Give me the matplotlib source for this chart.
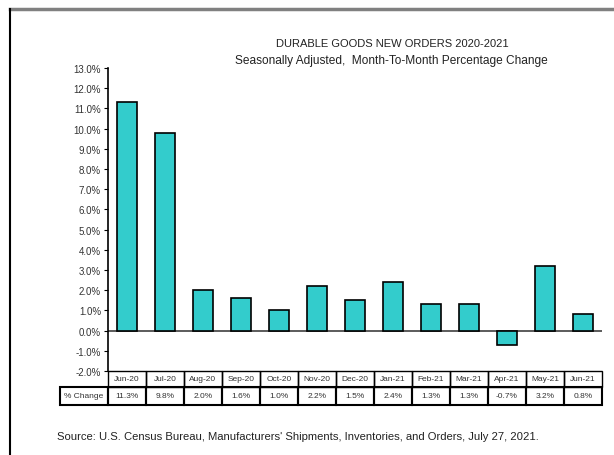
import matplotlib
matplotlib.use("Agg")
import matplotlib.pyplot as plt
from matplotlib.patches import Rectangle
from matplotlib.lines import Line2D
from matplotlib.transforms import blended_transform_factory

months = ["Jun-20", "Jul-20", "Aug-20", "Sep-20", "Oct-20", "Nov-20", "Dec-20",
          "Jan-21", "Feb-21", "Mar-21", "Apr-21", "May-21", "Jun-21"]
pct_change = [11.3, 9.8, 2.0, 1.6, 1.0, 2.2, 1.5, 2.4, 1.3, 1.3, -0.7, 3.2, 0.8]
y_ticks = [-2.0, -1.0, 0.0, 1.0, 2.0, 3.0, 4.0, 5.0, 6.0, 7.0, 8.0, 9.0, 10.0, 11.0, 12.0, 13.0]

plt.rcParams['font.family'] = ['Liberation Sans Narrow', 'Liberation Sans', 'DejaVu Sans']

W, H = 614, 456
fig = plt.figure(figsize=(W / 100, H / 100), dpi=100)

def fx(px):
    return px / W

def fy(py):
    return 1 - py / H

# outer frame
fig.add_artist(Line2D([fx(10), 1.0], [fy(10), fy(10)], color="#808080", lw=2.5))
fig.add_artist(Line2D([fx(10), fx(10)], [fy(10), 0.0], color="black", lw=1.5))

ax = fig.add_axes([fx(108), fy(372), fx(602) - fx(108), fy(69) - fy(372)])
x = list(range(len(months)))
ax.bar(x, pct_change, width=0.53, color="#33CCCC", edgecolor="black", linewidth=1.2, zorder=3)
ax.axhline(0, color="#404040", lw=1.2, zorder=2)
ax.set_xlim(-0.5, len(months) - 0.5)
ax.set_ylim(-2, 13)
ax.set_yticks(y_ticks)
ax.set_yticklabels([f"{v:.1f}%" for v in y_ticks], fontsize=7, color="#333333")
ax.tick_params(axis="y", direction="out", length=3, width=0.8, pad=2)
ax.set_xticks([])
for s in ["top", "right", "bottom"]:
    ax.spines[s].set_visible(False)
ax.spines["left"].set_linewidth(1.2)

# data table below the axis
tr = blended_transform_factory(ax.transData, fig.transFigure)
row1_top, row1_bot = fy(372), fy(388)
row2_top, row2_bot = fy(388), fy(406)
for i, (m, v) in enumerate(zip(months, pct_change)):
    ax.add_artist(Rectangle((i - 0.5, row1_bot), 1, row1_top - row1_bot, transform=tr,
                            fill=False, edgecolor="black", lw=1.0, clip_on=False))
    ax.add_artist(Rectangle((i - 0.5, row2_bot), 1, row2_top - row2_bot, transform=tr,
                            fill=False, edgecolor="black", lw=1.5, clip_on=False))
    ax.text(i, (row1_top + row1_bot) / 2, m, transform=tr, ha="center", va="center",
            fontsize=6, color="#333333", clip_on=False)
    ax.text(i, (row2_top + row2_bot) / 2, f"{v:.1f}%", transform=tr, ha="center", va="center",
            fontsize=6, color="#333333", clip_on=False)

fig.add_artist(Rectangle((fx(60), row2_bot), fx(108) - fx(60), row2_top - row2_bot,
                         fill=False, edgecolor="black", lw=1.5, transform=fig.transFigure))
fig.text((fx(60) + fx(108)) / 2, (row2_top + row2_bot) / 2, "% Change", ha="center", va="center",
         fontsize=6, color="#333333")

fig.text(fx(392), fy(44), "DURABLE GOODS NEW ORDERS 2020-2021", ha="center", va="center",
         fontsize=8, color="#222222")
fig.text(fx(391), fy(61), "Seasonally Adjusted,  Month-To-Month Percentage Change", ha="center",
         va="center", fontsize=8.6, color="#222222")
fig.text(fx(57), fy(437), "Source: U.S. Census Bureau, Manufacturers' Shipments, Inventories, and Orders, July 27, 2021.",
         ha="left", va="center", fontsize=8.1, color="#222222")

fig.savefig("out.png", dpi=100)
